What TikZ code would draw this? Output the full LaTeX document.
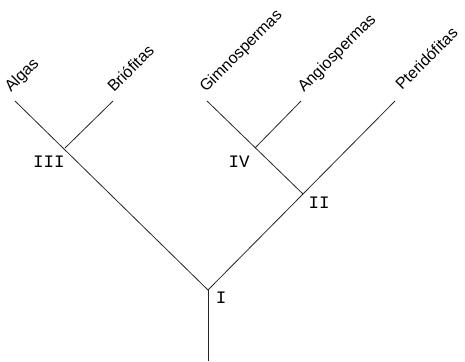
\documentclass[tikz,border=0pt]{standalone}
\usepackage{fontspec}
\setmainfont{Liberation Sans}
\newfontfamily\monof{Liberation Mono}
\begin{document}
\begin{tikzpicture}[x=1pt,y=-1pt,
  branch/.style={line width=0.8pt, draw=black!85},
  leaf/.style={anchor=base west, rotate=45, inner sep=0pt, font=\fontsize{16}{18}\selectfont},
  num/.style={inner sep=0pt, font=\monof\fontsize{17.5}{19}\selectfont}]
\useasboundingbox (0,0) rectangle (465,361);
\coordinate (root) at (208,361);
\coordinate (I) at (208,290);
\coordinate (II) at (303,194);
\coordinate (III) at (65,148);
\coordinate (IV) at (255,148);
\coordinate (alg) at (15,101);
\coordinate (bri) at (113,101);
\coordinate (gim) at (207,101);
\coordinate (ang) at (301,101);
\coordinate (pte) at (395,101);
\draw[branch] (root) -- (I);
\draw[branch] (I) -- (alg);
\draw[branch] (III) -- (bri);
\draw[branch] (I) -- (pte);
\draw[branch] (II) -- (gim);
\draw[branch] (IV) -- (ang);
\node[leaf] (talg) at (11,93) {Algas};
\node[leaf] (tbri) at (114,93) {Briófitas};
\node[leaf] (tgim) at (206,93) {Gimnospermas};
\node[leaf] (tang) at (304,93) {Angiospermas};
\node[leaf] (tpte) at (402,91) {Pteridófitas};
\node[num] (nIII) at (49,162) {III};
\node[num] (nIV) at (239,162) {IV};
\node[num] (nII) at (319,203) {II};
\node[num] (nI) at (221,298) {I};
\end{tikzpicture}
\end{document}
